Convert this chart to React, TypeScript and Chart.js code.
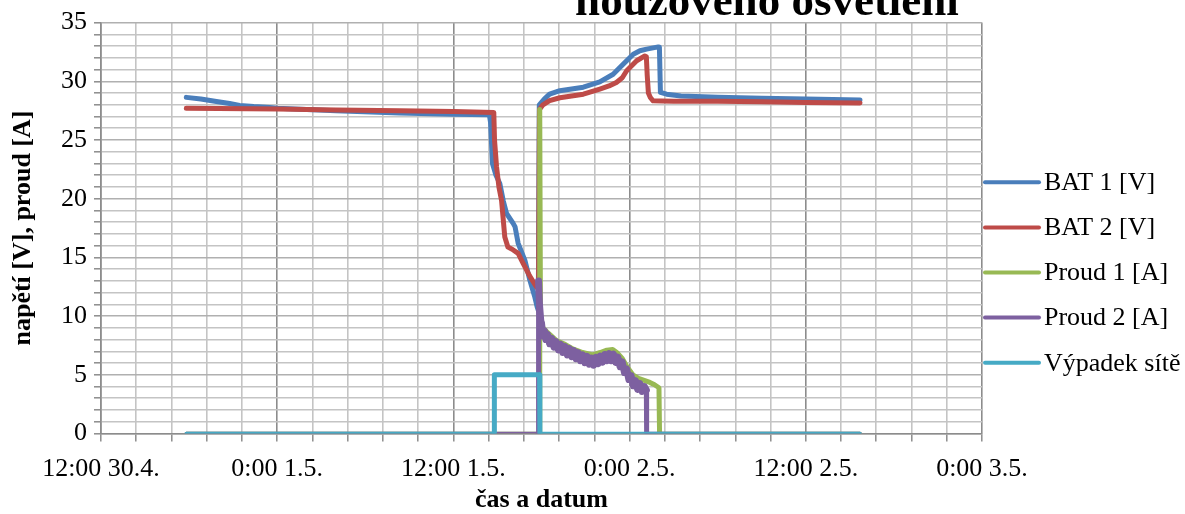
import React, { useEffect, useRef } from "react";
import { Chart, registerables } from "chart.js";

Chart.register(...registerables);

const chartTitle = "nouzového osvětlení";
const xAxisTitle = "čas a datum";
const yAxisTitle = "napětí [V], proud [A]";
const seriesNames = ["BAT 1 [V]", "BAT 2 [V]", "Proud 1 [A]", "Proud 2 [A]", "Výpadek sítě"];
const seriesColors = ["#4A7EBB", "#BE4B48", "#98B954", "#7D60A0", "#46AAC5"];
// x axis: hours since 30.4. 12:00
const xTickLabels = ["12:00 30.4.", "0:00 1.5.", "12:00 1.5.", "0:00 2.5.", "12:00 2.5.", "0:00 3.5."];

const bat1Hours = [5.81, 6.8, 7.86, 8.76, 9.44, 10.4, 11.48, 12.03, 16.0, 20.35, 24.0, 26.45, 26.53, 26.66, 26.9, 27.16, 27.4, 27.62, 28.07, 28.2, 28.41, 28.87, 29.21, 29.55, 29.7, 29.78, 29.85, 30.2, 30.55, 31.25, 32.85, 33.97, 34.88, 35.2, 35.56, 36.25, 36.7, 37.16, 37.6, 37.95, 38.03, 38.1, 38.52, 39.5, 42.0, 45.0, 48.0, 51.69];
const bat1Values = [28.63, 28.5, 28.28, 28.11, 27.95, 27.85, 27.77, 27.7, 27.5, 27.3, 27.2, 27.15, 26.5, 23.0, 22.0, 21.3, 19.8, 18.74, 17.9, 17.6, 16.2, 14.75, 13.05, 11.6, 10.8, 10.5, 28.0, 28.5, 28.9, 29.2, 29.5, 29.95, 30.6, 31.0, 31.46, 32.31, 32.6, 32.74, 32.85, 32.93, 32.9, 29.05, 28.9, 28.75, 28.65, 28.55, 28.5, 28.4];

const bat2Hours = [5.81, 8.0, 12.03, 16.0, 20.35, 24.0, 26.75, 26.8, 26.94, 27.1, 27.28, 27.5, 27.71, 28.0, 28.41, 28.75, 29.2, 29.66, 29.8, 29.86, 30.1, 30.55, 31.25, 32.85, 33.97, 34.6, 35.1, 35.5, 35.8, 36.48, 37.04, 37.14, 37.2, 37.28, 37.42, 37.6, 38.2, 39.0, 42.0, 45.0, 48.0, 51.69];
const bat2Values = [27.7, 27.68, 27.64, 27.55, 27.49, 27.42, 27.35, 25.0, 22.7, 21.0, 19.84, 16.73, 15.88, 15.7, 15.34, 14.49, 13.4, 12.48, 12.3, 27.6, 28.0, 28.35, 28.6, 28.9, 29.34, 29.6, 29.9, 30.3, 30.9, 31.75, 32.16, 32.1, 30.5, 29.0, 28.6, 28.34, 28.32, 28.3, 28.3, 28.25, 28.2, 28.15];

const proud1Hours = [5.81, 29.86, 29.88, 29.93, 30.09, 30.5, 31.04, 31.6, 32.13, 32.8, 33.49, 34.0, 34.45, 34.85, 35.13, 35.5, 35.81, 36.22, 36.6, 37.04, 37.38, 37.7, 38.0, 38.04, 51.69];
const proud1Values = [0, 0, 27.6, 9.8, 9.0, 8.5, 7.9, 7.6, 7.2, 6.9, 6.7, 6.9, 7.1, 7.15, 6.9, 6.4, 5.7, 5.0, 4.7, 4.5, 4.35, 4.15, 3.9, 0, 0];

const proud2Hours = [5.81, 29.78, 29.8, 29.86, 29.95, 30.0, 30.1, 30.2, 30.3, 30.4, 30.55, 30.7, 30.85, 31.0, 31.15, 31.3, 31.45, 31.6, 31.75, 31.9, 32.05, 32.2, 32.35, 32.5, 32.65, 32.8, 32.95, 33.1, 33.25, 33.4, 33.55, 33.7, 33.85, 34.0, 34.15, 34.3, 34.45, 34.6, 34.75, 34.9, 35.05, 35.2, 35.35, 35.5, 35.65, 35.8, 35.95, 36.1, 36.25, 36.4, 36.55, 36.7, 36.85, 37.0, 37.14, 37.16, 51.69];
const proud2Values = [0, 0, 13.0, 11.0, 9.6, 9.4, 8.3, 8.75, 8.0, 8.45, 7.65, 8.1, 7.35, 7.82, 7.12, 7.6, 6.9, 7.4, 6.7, 7.23, 6.55, 7.06, 6.37, 6.88, 6.2, 6.7, 6.03, 6.57, 5.9, 6.43, 5.82, 6.48, 5.94, 6.6, 6.07, 6.73, 6.2, 6.8, 6.2, 6.77, 6.06, 6.5, 5.7, 6.1, 5.2, 5.5, 4.6, 4.93, 4.07, 4.5, 3.75, 4.25, 3.58, 4.0, 3.7, 0, 0];

const vypadekHours = [5.81, 26.77, 26.79, 29.87, 29.89, 51.69];
const vypadekValues = [0, 0, 5, 5, 0, 0];

const seriesHours = [bat1Hours, bat2Hours, proud1Hours, proud2Hours, vypadekHours];
const seriesValues = [bat1Values, bat2Values, proud1Values, proud2Values, vypadekValues];
const seriesWidths = [5, 5, 5, 7, 5];

const FONT = '"Liberation Serif", "Times New Roman", serif';

const isMult = (v: number, m: number) => Math.abs(v / m - Math.round(v / m)) < 1e-6;

const overlayPlugin = {
  id: "overlay",
  afterDraw(chart: any) {
    const ctx = chart.ctx;
    const ca = chart.chartArea;
    ctx.save();
    ctx.fillStyle = "#000";
    ctx.font = `bold 45px ${FONT}`;
    ctx.textAlign = "center";
    ctx.textBaseline = "alphabetic";
    ctx.fillText(chartTitle, 767, 15);
    // legend
    ctx.font = `26px ${FONT}`;
    ctx.textAlign = "left";
    ctx.textBaseline = "middle";
    chart.data.datasets.forEach((ds: any, i: number) => {
      const y = 182.3 + i * 45.1;
      ctx.strokeStyle = ds.borderColor;
      ctx.lineWidth = 4;
      ctx.lineCap = "round";
      ctx.beginPath();
      ctx.moveTo(ca.right + 3, y);
      ctx.lineTo(ca.right + 57, y);
      ctx.stroke();
      ctx.fillText(ds.label, ca.right + 62, y + 1);
    });
    ctx.restore();
  },
};

export default function App() {
  const ref = useRef<HTMLCanvasElement | null>(null);
  useEffect(() => {
    document.body.style.margin = "0";
    const canvas = ref.current;
    if (!canvas) return;
    const datasets = seriesNames.map((name, i) => ({
      label: name,
      data: seriesHours[i].map((h, j) => ({ x: h, y: seriesValues[i][j] })),
      borderColor: seriesColors[i],
      backgroundColor: seriesColors[i],
      borderWidth: seriesWidths[i],
      pointRadius: 0,
      tension: 0,
      borderJoinStyle: "round" as const,
      borderCapStyle: "round" as const,
      order: -i,
      segment: {
        borderWidth: (c: any) => {
          if (c.p0.parsed.y === 0 && c.p1.parsed.y === 0) return 3.5;
          if (Math.abs(c.p0.parsed.x - c.p1.parsed.x) < 0.05) return 5;
          return seriesWidths[i];
        },
      },
    }));
    const chart = new Chart(canvas, {
      type: "line",
      data: { datasets },
      plugins: [overlayPlugin],
      options: {
        animation: false,
        responsive: false,
        devicePixelRatio: 1,
        layout: { padding: { left: 0, right: 203, top: 22, bottom: 0 } },
        plugins: { legend: { display: false }, title: { display: false }, tooltip: { enabled: false } },
        scales: {
          x: {
            type: "linear",
            min: 0,
            max: 60,
            afterFit: (s: any) => { s.height = 80.5; },
            ticks: {
              stepSize: 2.4,
              autoSkip: false,
              maxRotation: 0,
              padding: 12,
              color: "#000",
              font: { family: FONT, size: 26 },
              callback: (v: any) => (isMult(Number(v), 12) ? xTickLabels[Math.round(Number(v) / 12)] : ""),
            },
            grid: {
              color: (c: any) => (c.tick && isMult(c.tick.value, 12) ? "#8c8c8c" : "#c4c4c4"),
              lineWidth: 1.6,
              tickLength: 8,
              tickColor: "#8c8c8c",
              tickWidth: 1.5,
            },
            border: { color: "#8c8c8c", width: 1.6 },
            title: { display: true, text: xAxisTitle, color: "#000", font: { family: FONT, size: 26, weight: "bold" }, padding: { top: 0, bottom: -2 } },
          },
          y: {
            min: 0,
            max: 35,
            afterFit: (s: any) => { s.width = 101; },
            ticks: {
              stepSize: 1,
              autoSkip: false,
              padding: 7,
              color: "#000",
              font: { family: FONT, size: 26 },
              callback: (v: any) => (isMult(Number(v), 5) ? String(v) : ""),
            },
            grid: {
              color: (c: any) => (c.tick && isMult(c.tick.value, 5) ? "#b0b0b0" : "#c4c4c4"),
              lineWidth: 1.6,
              tickLength: 7,
              tickColor: "#8c8c8c",
              tickWidth: 1.5,
            },
            border: { color: "#8c8c8c", width: 1.6 },
            title: { display: true, text: yAxisTitle, color: "#000", font: { family: FONT, size: 26, weight: "bold" }, padding: { top: 8, bottom: 0 } },
          },
        },
      },
    });
    return () => chart.destroy();
  }, []);
  return (
    <div style={{ width: 1185, height: 514, position: "relative", background: "#fff" }}>
      <canvas ref={ref} width={1185} height={514} style={{ display: "block" }} />
    </div>
  );
}
